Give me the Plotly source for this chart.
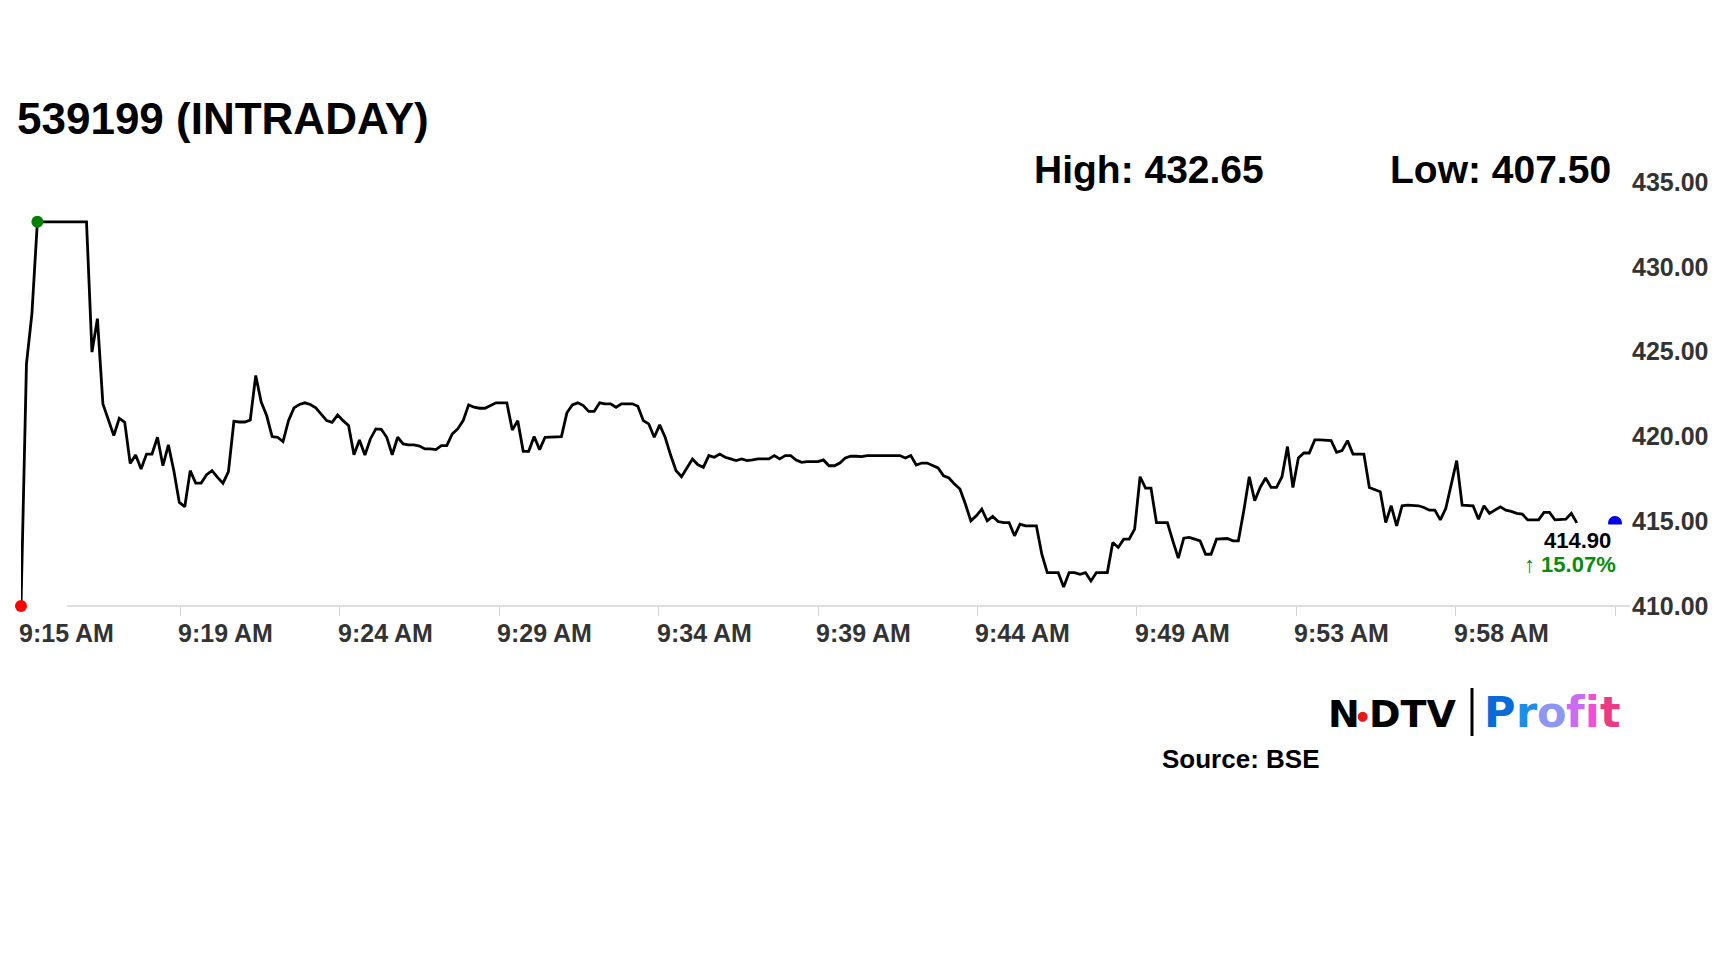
import plotly.graph_objects as go

# ---------------- data ----------------
title_text = "539199 (INTRADAY)"
high_label = "High: 432.65"
low_label = "Low: 407.50"
last_label = "414.90"
change_label = "\u2191 15.07%"
source_label = "Source: BSE"

# intraday prices, one per ~10 s tick, 9:15 AM onwards
prices = [
    410.00, 424.28, 427.24, 432.65, 432.65, 432.65, 432.65, 432.65, 432.65, 432.65,
    432.65, 432.65, 432.65, 424.97, 426.94, 421.92, 421.00, 420.05, 421.07, 420.83,
    418.41, 418.90, 418.08, 418.96, 418.96, 419.95, 418.27, 419.50, 417.98, 416.11,
    415.85, 417.98, 417.25, 417.25, 417.74, 417.98, 417.58, 417.24, 417.92, 420.89,
    420.85, 420.85, 420.97, 423.59, 422.02, 421.23, 419.99, 419.95, 419.69, 420.93,
    421.68, 421.88, 421.98, 421.88, 421.68, 421.27, 420.93, 420.83, 421.27, 420.93,
    420.64, 418.92, 419.79, 418.90, 419.85, 420.44, 420.42, 419.95, 418.92, 419.95,
    419.56, 419.50, 419.50, 419.43, 419.26, 419.26, 419.22, 419.46, 419.46, 420.15,
    420.44, 420.93, 421.86, 421.72, 421.66, 421.66, 421.82, 421.98, 421.98, 421.98,
    420.38, 420.93, 419.12, 419.12, 419.99, 419.22, 419.95, 419.95, 419.99, 419.99,
    421.39, 421.86, 421.98, 421.82, 421.47, 421.47, 421.98, 421.92, 421.92, 421.72,
    421.92, 421.92, 421.92, 421.78, 420.93, 420.74, 419.95, 420.68, 419.95, 418.90,
    417.98, 417.62, 418.12, 418.67, 418.33, 418.18, 418.87, 418.77, 418.96, 418.77,
    418.67, 418.57, 418.67, 418.57, 418.61, 418.67, 418.67, 418.67, 418.87, 418.67,
    418.87, 418.87, 418.61, 418.47, 418.51, 418.51, 418.51, 418.61, 418.27, 418.27,
    418.43, 418.73, 418.83, 418.83, 418.81, 418.87, 418.87, 418.87, 418.87, 418.87,
    418.87, 418.87, 418.73, 418.87, 418.31, 418.43, 418.43, 418.27, 418.14, 417.68,
    417.55, 417.19, 416.90, 416.01, 415.02, 415.32, 415.71, 415.02, 415.28, 414.98,
    414.92, 414.92, 414.14, 414.83, 414.73, 414.73, 414.73, 413.05, 411.97, 411.97,
    411.97, 411.12, 411.97, 411.97, 411.87, 411.97, 411.48, 411.97, 411.97, 411.97,
    413.74, 413.45, 413.94, 413.94, 414.53, 417.62, 416.95, 416.95, 414.92, 414.92,
    414.92, 413.84, 412.82, 414.00, 414.04, 413.94, 413.84, 413.05, 413.05, 413.94,
    413.98, 413.98, 413.84, 413.84, 415.61, 417.62, 416.21, 416.99, 417.55, 416.99,
    416.99, 417.62, 419.40, 416.99, 418.73, 419.02, 419.02, 419.79, 419.79, 419.79,
    419.75, 419.06, 419.16, 419.75, 418.96, 418.96, 418.96, 416.99, 416.86, 416.74,
    414.92, 415.91, 414.73, 415.91, 415.95, 415.91, 415.91, 415.81, 415.65, 415.65,
    415.08, 415.75, 417.19, 418.57, 415.95, 415.95, 415.91, 415.12, 415.91, 415.46,
    415.65, 415.85, 415.65, 415.58, 415.46, 415.42, 415.08, 415.08, 415.08, 415.52,
    415.52, 415.08, 415.08, 415.12, 415.46, 414.90,
]

x_labels = ["9:15 AM", "9:19 AM", "9:24 AM", "9:29 AM", "9:34 AM",
            "9:39 AM", "9:44 AM", "9:49 AM", "9:53 AM", "9:58 AM"]
y_ticks = [410, 415, 420, 425, 430, 435]
y_ticktext = ["410.00", "415.00", "420.00", "425.00", "430.00", "435.00"]

profit_letters = ["P", "r", "o", "f", "i", "t"]
profit_colors = ["#0a6ad8", "#1b8fe8", "#8f96f2", "#c86cf2", "#f24fd6", "#ea3c84"]
# DejaVu Sans Bold advance widths (em) used to lay the logo letters out
profit_advances = [0.733, 0.493, 0.687, 0.435, 0.343, 0.478]

# ---------------- layout geometry ----------------
W, H = 1728, 972
L, R, T, B = 21, 1615, 182, 606          # plot area in px
AXIS_END = 292                            # x-axis length in ticks (index units)
N_INTERVALS = 10
step = AXIS_END / N_INTERVALS


def px(x):
    return (x - L) / (R - L)


def py(y):
    return (B - y) / (B - T)


xs = list(range(len(prices)))
i_high = max(range(len(prices)), key=lambda i: prices[i])
i_low = min(range(len(prices)), key=lambda i: prices[i])

fig = go.Figure()
fig.add_trace(go.Scatter(x=xs, y=prices, mode="lines",
                         line=dict(color="#000000", width=2.8),
                         cliponaxis=False, hoverinfo="skip", showlegend=False))
fig.add_trace(go.Scatter(x=[i_low], y=[prices[i_low]], mode="markers",
                         marker=dict(color="#ff0000", size=12),
                         cliponaxis=False, showlegend=False))
fig.add_trace(go.Scatter(x=[i_high], y=[prices[i_high]], mode="markers",
                         marker=dict(color="#008000", size=12),
                         cliponaxis=False, showlegend=False))
fig.add_trace(go.Scatter(x=[AXIS_END], y=[prices[-1]], mode="markers",
                         marker=dict(color="#0000ee", size=14),
                         cliponaxis=False, showlegend=False))

FONT = "Liberation Sans, Arial"
LOGO_FONT = "DejaVu Sans"
annotations = []


def add_text(text, x, y, size, color="#000", anchor="left", family=FONT, xref="paper"):
    annotations.append(dict(text=text, x=x, y=y, xref=xref, yref="paper",
                            xanchor=anchor, yanchor="middle", showarrow=False,
                            font=dict(family=family, size=size, color=color)))


# title and high/low
add_text(f"<b>{title_text}</b>", px(15), py(118), 44)
add_text(f"<b>{high_label}</b>", px(1032), py(169), 39)
add_text(f"<b>{low_label}</b>", px(1613), py(169), 39, anchor="right")
# x-axis labels: left-aligned at their ticks
for k, lab in enumerate(x_labels):
    annotations.append(dict(text=f"<b>{lab}</b>", x=k * step, y=py(633),
                            xref="x", yref="paper", xanchor="left", yanchor="middle",
                            xshift=-4, showarrow=False,
                            font=dict(family=FONT, size=25, color="#333333")))
# last value + change
add_text(f"<b>{last_label}</b>", px(1613), py(540), 22, anchor="right")
add_text(f"<b>{change_label}</b>", px(1618), py(564), 22, color="#0b8a0b", anchor="right")
# source
add_text(f"<b>{source_label}</b>", px(1160), py(759), 26)
# logo: N  (red dot)  DTV | Profit
add_text("<b>N</b>", px(1326), py(714), 38, family=LOGO_FONT)
add_text("\u25CF", px(1362), py(715), 13, color="#e3191b", anchor="center", family=LOGO_FONT)
add_text("<b>DTV</b>", px(1367), py(714), 38, family=LOGO_FONT)
PROFIT_SIZE = 43
cx = 1483.0
for ch, col, adv in zip(profit_letters, profit_colors, profit_advances):
    add_text(f"<b>{ch}</b>", px(cx - 1), py(712), PROFIT_SIZE, color=col, family=LOGO_FONT)
    cx += adv * PROFIT_SIZE

shapes = [
    # x axis line
    dict(type="line", xref="paper", yref="paper", x0=px(67), x1=px(1630), y0=0, y1=0,
         line=dict(color="#d3d3d3", width=1.5)),
    # cover under the last-point dot (label background)
    dict(type="rect", xref="paper", yref="paper", x0=px(1605), x1=px(1626),
         y0=py(531), y1=py(524.5), fillcolor="#ffffff", line=dict(width=0), layer="above"),
    # logo separator
    dict(type="line", xref="paper", yref="paper", x0=px(1472), x1=px(1472),
         y0=py(688), y1=py(736), line=dict(color="#000", width=3)),
]

fig.update_layout(
    width=W, height=H,
    margin=dict(l=L, r=W - R, t=T, b=H - B, pad=0),
    paper_bgcolor="#ffffff", plot_bgcolor="#ffffff",
    showlegend=False,
    annotations=annotations,
    shapes=shapes,
    xaxis=dict(range=[0, AXIS_END], showgrid=False, zeroline=False, showline=False,
               tickvals=[k * step for k in range(1, N_INTERVALS + 1)],
               ticks="outside", ticklen=9, tickwidth=1, tickcolor="#d3d3d3",
               showticklabels=False, fixedrange=True),
    yaxis=dict(range=[410, 435], side="right", showgrid=False, zeroline=False,
               showline=False, tickvals=y_ticks, ticktext=y_ticktext,
               ticks="", ticklabelstandoff=16,
               tickfont=dict(family=FONT, size=25, color="#333333", weight="bold"),
               fixedrange=True),
)

fig.write_html("out.html", config={"displayModeBar": False},
               post_script="document.body.style.margin='0';document.body.style.overflow='hidden';")
